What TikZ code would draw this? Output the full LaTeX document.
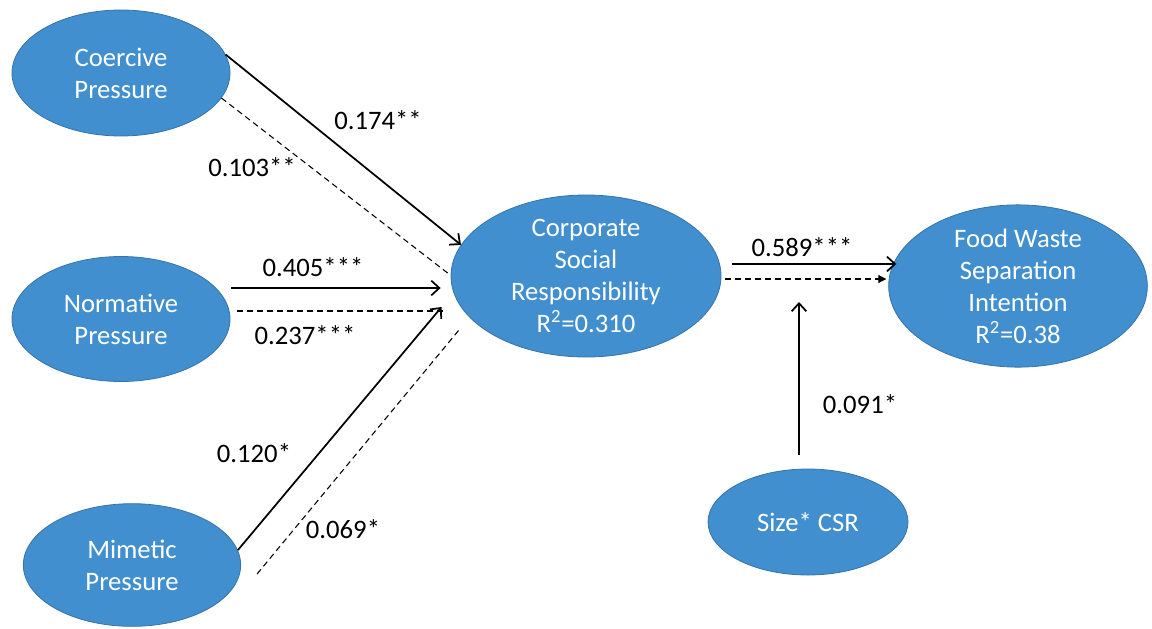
\documentclass[tikz,border=0pt]{standalone}
\usepackage{fontspec}
\setmainfont{Carlito}
\usepackage{tikz}
\usetikzlibrary{shapes.geometric, arrows.meta, positioning}

\definecolor{latblue}{RGB}{65,143,206}
\definecolor{latedge}{RGB}{55,115,170}

\tikzset{
  latent/.style={ellipse, fill=latblue, draw=latedge, line width=0.6pt, text=white,
    align=center, inner sep=0pt, font=\fontsize{20}{24}\selectfont},
  coef/.style={font=\fontsize{20}{24}\selectfont, inner sep=1pt},
  direct/.style={line width=1.3pt, -{Straight Barb[length=6pt,width=11pt,line width=1.3pt]}},
  indirect/.style={line width=0.8pt, dash pattern=on 4.5pt off 3pt},
}

\begin{document}
\begin{tikzpicture}[x=0.75pt, y=-0.75pt]
    \useasboundingbox (0,0) rectangle (1152,628);

    % Konstrukte
    \node[latent, minimum width=163.5pt, minimum height=94.5pt] (coer) at (121,73) {Coercive\\Pressure};
    \node[latent, minimum width=163.5pt, minimum height=93.75pt] (norm) at (121,319) {Normative\\Pressure};
    \node[latent, minimum width=163pt, minimum height=92pt] (mim) at (132,565) {Mimetic\\Pressure};
    \node[latent, minimum width=202.5pt, minimum height=121.5pt] (csr) at (586,276) {Corporate\\Social\\Responsibility\\R\textsuperscript{2}=0.310};
    \node[latent, minimum width=194pt, minimum height=117pt] (food) at (1018,286) {Food Waste\\Separation\\Intention\\R\textsuperscript{2}=0.38};
    \node[latent, minimum width=150pt, minimum height=79.5pt] (size) at (808,522) {Size* CSR};
    \coordinate (mod) at (799,302);

    % Pfade
    \draw[direct] (coer.10) -- (csr.166);
    \draw[indirect] (coer.-14) -- ([shift={(-3,-3)}]csr.west);
    \draw[direct] ([shift={(1,-31)}]norm.east) -- ([shift={(-10,12)}]csr.west);
    \draw[indirect] ([shift={(7,-8)}]norm.east) -- ([shift={(-4,35)}]csr.west);
    \draw[direct] (mim.8) -- ([shift={(-9,31)}]csr.west);
    \draw[indirect] ([shift={(16,9)}]mim.east) -- ([shift={(10,52)}]csr.west);
    \draw[direct] ([shift={(11,-12)}]csr.east) -- ([shift={(8,-22)}]food.west);
    \draw[indirect, -{Triangle[length=6pt,width=6pt]}] ([shift={(4,3)}]csr.east) -- ([shift={(-2,-7)}]food.west);
    \draw[direct] ([shift={(-9,-14)}]size.north) -- (mod);

    % Koeffizienten
    \node[coef] (c1) at (378,120) {0.174**};
    \node[coef] (c2) at (252,167) {0.103**};
    \node[coef] (c3) at (313,267) {0.405***};
    \node[coef] (c4) at (305,335) {0.237***};
    \node[coef] (c5) at (254,453) {0.120*};
    \node[coef] (c6) at (343,529) {0.069*};
    \node[coef] (c7) at (802,247) {0.589***};
    \node[coef] (c8) at (860,404) {0.091*};
\end{tikzpicture}
\end{document}
